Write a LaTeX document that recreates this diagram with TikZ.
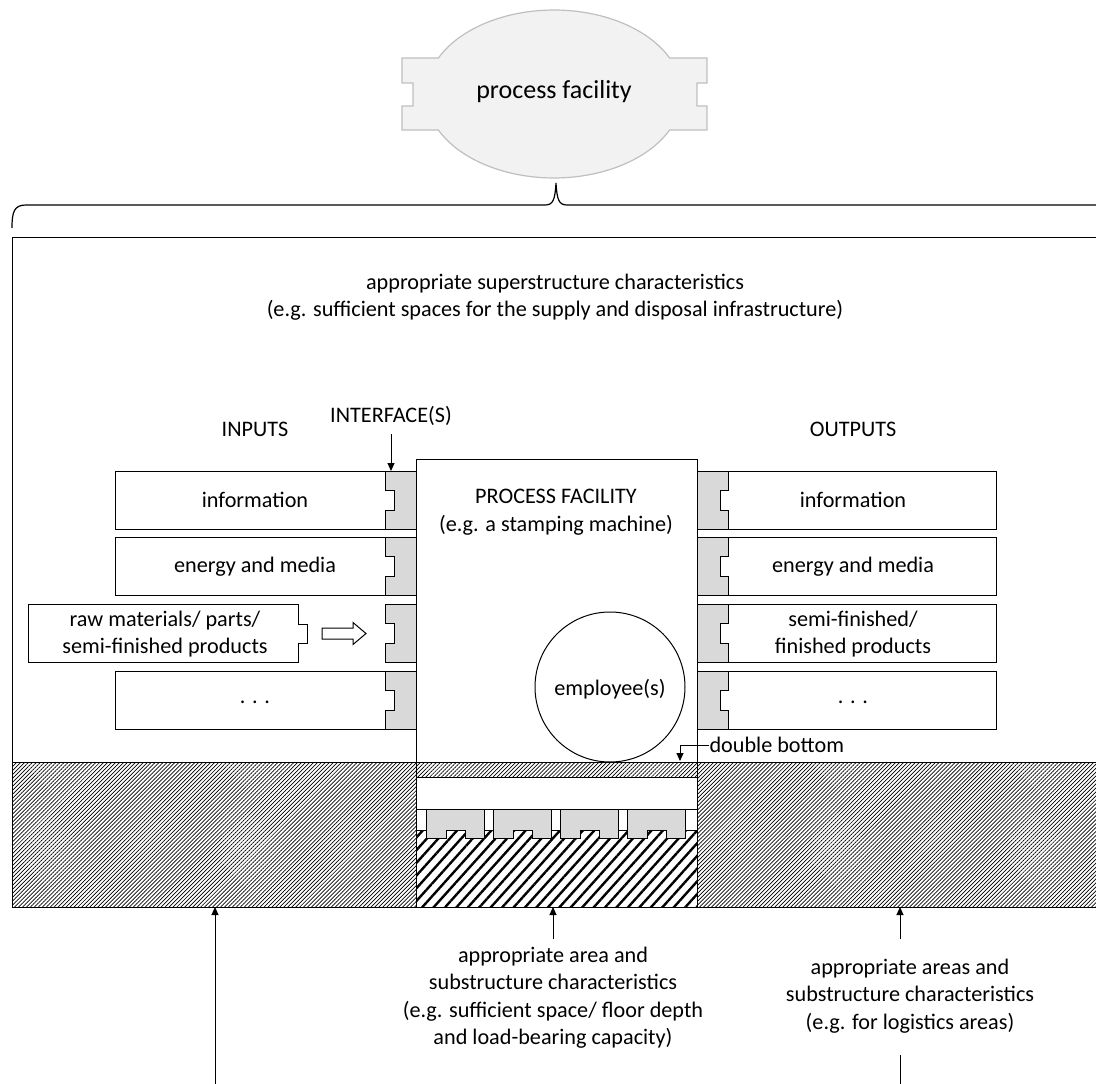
\documentclass[tikz,border=0pt]{standalone}
\usepackage{fontspec}
\setmainfont{Carlito}
\usetikzlibrary{arrows.meta,patterns.meta}
\definecolor{ifgray}{HTML}{D9D9D9}
\definecolor{topfill}{HTML}{F2F2F2}
\definecolor{topline}{HTML}{BFBFBF}

\begin{document}
\begin{tikzpicture}[x=1pt,y=-1pt,line width=1pt,
  lbl/.style={font=\fontsize{22.2}{27.5}\selectfont,align=center,inner sep=0pt},
  iface/.style={fill=ifgray,draw=black},
  plain/.style={fill=white,draw=black},
  arr/.style={-{Triangle[length=8pt,width=7pt]}},
  finehatch/.style={pattern={Lines[angle=45,distance=2.8pt,line width=0.7pt]}},
  coarsehatch/.style={pattern={Lines[angle=48,distance=8.5pt,line width=2.4pt]}}]

\clip (0,0) rectangle (1096,1084);

% plug-in shaped symbol of the facility
\filldraw[fill=topfill,draw=topline,line width=1.2pt]
  (438.4,58) arc[start angle=205.4,end angle=334.6,x radius=128,y radius=84]
  -- (707,58) -- (707,83) -- (697,83) -- (697,106) -- (707,106) -- (707,130)
  -- (669.6,130) arc[start angle=25.4,end angle=154.6,x radius=128,y radius=84]
  -- (402,130) -- (402,106) -- (413,106) -- (413,83) -- (402,83) -- (402,58) -- cycle;
\node[lbl,font=\fontsize{26}{30}\selectfont] (pf) at (554,92) {process facility};

% curly brace
\draw[line width=1.2pt] (12,228) .. controls (12,212) and (14,205) .. (26,205)
  -- (545,205) .. controls (553,205) and (555,200) .. (556,183)
  .. controls (557,200) and (559,205) .. (567,205) -- (1110,205);

% building outline
\draw (12,237) rectangle (1110,907);

% floor slabs
\draw[finehatch] (12,762) rectangle (416,907);
\draw[finehatch] (697,762) rectangle (1110,907);
\draw[finehatch] (416,762) rectangle (697,777);
\draw (416,777) rectangle (697,809);
\draw[coarsehatch] (416,830) rectangle (697,907);
\foreach \x in {426,493.3,560.6,627.9}{
  \draw[iface] (\x,809) -- (\x+58,809) -- (\x+58,838) -- (\x+39,838) -- (\x+39,830)
    -- (\x+20,830) -- (\x+20,838) -- (\x,838) -- cycle;
}

% machine body
\draw (416,459) rectangle (697,907);

% input rows
\foreach \t in {471,537.5,671}{
  \draw[plain] (115,\t) -- (385,\t) -- (385,\t+19) -- (394,\t+19) -- (394,\t+39)
    -- (385,\t+39) -- (385,\t+58) -- (115,\t+58) -- cycle;
}
\foreach \t in {471,537.5,604,671}{
  \draw[iface] (385,\t) -- (416,\t) -- (416,\t+58) -- (385,\t+58) -- (385,\t+39)
    -- (394,\t+39) -- (394,\t+19) -- (385,\t+19) -- cycle;
}
% output rows
\foreach \t in {471,537.5,604,671}{
  \draw[iface] (697,\t) -- (728,\t) -- (728,\t+19) -- (720,\t+19) -- (720,\t+39)
    -- (728,\t+39) -- (728,\t+58) -- (697,\t+58) -- cycle;
  \draw[plain] (728,\t) -- (996,\t) -- (996,\t+58) -- (728,\t+58) -- (728,\t+39)
    -- (720,\t+39) -- (720,\t+19) -- (728,\t+19) -- cycle;
}

% raw material supply
\draw[plain] (28,604) -- (298,604) -- (298,624) -- (307,624) -- (307,643)
  -- (298,643) -- (298,662) -- (28,662) -- cycle;
\draw (322,628) -- (353,628) -- (353,622.5) -- (366,633.5) -- (353,644.5)
  -- (353,639) -- (322,639) -- cycle;

% employee
\node[draw,circle,minimum size=150pt,inner sep=0pt] (emp) at (610,687) {};
\node[lbl] (empt) at (610,689) {employee(s)};

% labels
\node[lbl] (super) at (555,297) {appropriate superstructure characteristics\\(e.g. sufficient spaces for the supply and disposal infrastructure)};
\node[lbl] (inputs) at (255,429) {INPUTS};
\node[lbl] (outputs) at (853,429) {OUTPUTS};
\node[lbl] (iftxt) at (391,416) {INTERFACE(S)};
\node[lbl] (machine) at (556,512) {PROCESS FACILITY\\(e.g. a stamping machine)};

\node[lbl] (in1) at (255,500) {information};
\node[lbl] (in2) at (255,567) {energy and media};
\node[lbl] (in3) at (165,634) {raw materials/ parts/\\semi-finished products};
\node[lbl] (in4) at (255,702) {. . .};
\node[lbl] (out1) at (853,500) {information};
\node[lbl] (out2) at (853,567) {energy and media};
\node[lbl] (out3) at (853,634) {semi-finished/\\finished products};
\node[lbl] (out4) at (853,702) {. . .};

\node[lbl,anchor=west] (dbl) at (709,745) {double bottom};
\node[lbl] (sub1) at (553,997.5) {appropriate area and\\substructure characteristics\\(e.g. sufficient space/ floor depth\\and load-bearing capacity)};
\node[lbl] (sub2) at (910,996) {appropriate areas and\\substructure characteristics\\(e.g. for logistics areas)};

% connectors
\coordinate (iftop) at (391,471);
\draw[arr] ([yshift=-8pt]iftxt.south) -- (iftop);
\coordinate (dbltip) at (680,761);
\draw[arr] (dbl.west) -- (680,745) -- (dbltip);

\coordinate (leftbase) at (215,907);
\coordinate (leftfoot) at (215,1090);
\draw[arr] (leftfoot) -- (leftbase);
\coordinate (midbase) at (553,907);
\draw[arr] ([yshift=7pt]sub1.north) -- (midbase);
\coordinate (rightbase) at (900,907);
\coordinate (rightstart) at (900,939);
\draw[arr] (rightstart) -- (rightbase);
\coordinate (rightlow) at (900,1055);
\coordinate (rightfoot) at (900,1090);
\draw (rightlow) -- (rightfoot);
\end{tikzpicture}
\end{document}
